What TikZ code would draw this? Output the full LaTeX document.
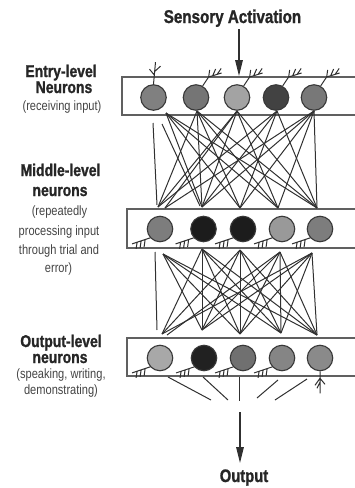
\documentclass[tikz,border=0pt]{standalone}
\usepackage{fontspec}
\setmainfont{Liberation Sans}[FakeStretch=0.82,BoldFeatures={FakeBold=1.2}]
\usetikzlibrary{arrows.meta}
\definecolor{ink}{HTML}{262626}
\definecolor{soft}{HTML}{444444}
\definecolor{frame}{HTML}{606060}
\definecolor{wire}{HTML}{303030}
\definecolor{rim}{HTML}{383838}
\begin{document}
\begin{tikzpicture}[x=1pt,y=-1pt,
  layer/.style={draw=frame,line width=1.5pt,inner sep=0pt,minimum height=38pt,minimum width=240pt,anchor=north west},
  neuron/.style={circle,draw=rim,line width=1.1pt,minimum size=25.5pt,inner sep=0pt},
  wirestyle/.style={draw=wire,line width=1pt},
  head/.style={font=\fontsize{17}{19}\selectfont\bfseries,text=ink,inner sep=0pt,anchor=base},
  note/.style={font=\fontsize{13.5}{15}\selectfont,text=soft,inner sep=0pt,anchor=base},
  title/.style={font=\fontsize{18.5}{20}\selectfont\bfseries,text=ink,inner sep=0pt,anchor=base},
  flow/.style={draw=wire,line width=1.3pt,-{Triangle[length=16pt,width=7.5pt]}},
  % branching input dendrite (upper right of an entry neuron)
  tuft/.pic={\draw[wirestyle] (0,0)--(6,-9) (6,-9)--(19,-13) (6,-9)--(7,-16)
               (10,-10.2)--(13,-17) (14.5,-11.6)--(18.5,-17.5);},
  % upright dendrite of the first entry neuron
  spike/.pic={\draw[wirestyle] (0,0)--(2,-22) (1,-9)--(-4,-15) (1.5,-13)--(7,-18);},
  % comb-like dendrite (lower left of middle and output neurons)
  comb/.pic={\draw[wirestyle] (0,0)--(-18,6) (-5,1.7)--(-6,9) (-9,3)--(-10,10)
               (-13,4.3)--(-14,11);},
  % downward dendrite of the last output neuron
  root/.pic={\draw[wirestyle] (0,0)--(0,22) (0,7)--(-5,14) (0,7)--(5,13) (0,11)--(-3,17);}
]
\useasboundingbox (0,0) rectangle (355,488);

% ---------- labels ----------
\node[title] (sens) at (232.5,23) {Sensory Activation};
\node[head] (e1) at (61,77) {Entry-level};
\node[head] (e2) at (64,93) {Neurons};
\node[note] (e3) at (62,110) {(receiving input)};

\node[head] (m1) at (60.5,176) {Middle-level};
\node[head] (m2) at (60,196) {neurons};
\node[note] (m3) at (59.5,215) {(repeatedly};
\node[note] (m4) at (59,235) {processing input};
\node[note] (m5) at (59,254) {through trial and};
\node[note] (m6) at (58.5,272) {error)};

\node[head] (o1) at (61,347) {Output-level};
\node[head] (o2) at (60,363) {neurons};
\node[note] (o3) at (61,378) {(speaking, writing,};
\node[note] (o4) at (61,394) {demonstrating)};

\node[title,font=\fontsize{18}{20}\selectfont\bfseries] (out) at (244,482) {Output};

% ---------- layers ----------
\node[layer] (B1) at (121,76) {};
\node[layer,minimum height=39pt] (B2) at (126,208) {};
\node[layer] (B3) at (126,337) {};

% ---------- connection end points ----------
\coordinate (s1) at (166,113);
\coordinate (s2) at (197,111);
\coordinate (s3) at (237,111);
\coordinate (s4) at (277,111);
\coordinate (s5) at (314,111);
\coordinate (t1) at (158,207);
\coordinate (t1b) at (165,208);
\coordinate (t2) at (202,207);
\coordinate (t3) at (240,208);
\coordinate (t4) at (278,208);
\coordinate (t5) at (317,208);
\coordinate (x1) at (153,123);
\coordinate (x2) at (157,205);
\coordinate (x3) at (162,124);
\coordinate (x4) at (200,206);

\coordinate (u1) at (163,254);
\coordinate (u2) at (202,249);
\coordinate (u3) at (240,250);
\coordinate (u4) at (280,252);
\coordinate (u5) at (312,253);
\coordinate (v1) at (162,334);
\coordinate (v1b) at (167,335);
\coordinate (v2) at (202,330);
\coordinate (v3) at (240,334);
\coordinate (v4) at (281,333);
\coordinate (v5) at (317,335);
\coordinate (y1) at (155,252);
\coordinate (y2) at (157,330);

% ---------- entry -> middle ----------
\foreach \a/\b in {s1/t2,s1/t3,s1/t4,s1/t5,
                   s2/t1,s2/t2,s2/t3,s2/t4,s2/t5,
                   s3/t1,s3/t1b,s3/t2,s3/t4,s3/t5,
                   s4/t1,s4/t2,s4/t3,s4/t5,
                   s5/t1b,s5/t2,s5/t3,s5/t4,s5/t5,
                   x1/x2,x3/x4}
  \draw[wirestyle] (\a) -- (\b);

% ---------- middle -> output ----------
\foreach \a/\b in {u1/v2,u1/v3,u1/v4,u1/v5,
                   u2/v1,u2/v2,u2/v3,u2/v4,u2/v5,
                   u3/v1,u3/v2,u3/v3,u3/v4,u3/v5,
                   u4/v1b,u4/v2,u4/v3,u4/v4,u4/v5,
                   u5/v1,u5/v2,u5/v3,u5/v4,u5/v5,
                   y1/y2}
  \draw[wirestyle] (\a) -- (\b);

% ---------- neurons ----------
\node[neuron,fill=black!50] (a1) at (153.5,97.5) {};
\node[neuron,fill=black!54] (a2) at (196,97.5) {};
\node[neuron,fill=black!36] (a3) at (237,97.5) {};
\node[neuron,fill=black!74] (a4) at (276,97.5) {};
\node[neuron,fill=black!53] (a5) at (314,97.5) {};

\node[neuron,fill=black!51] (b1) at (160,229) {};
\node[neuron,fill=black!89] (b2) at (203.5,229) {};
\node[neuron,fill=black!89] (b3) at (243,229) {};
\node[neuron,fill=black!40] (b4) at (282,229) {};
\node[neuron,fill=black!51] (b5) at (320,229) {};

\node[neuron,fill=black!34] (c1) at (160,358) {};
\node[neuron,fill=black!87] (c2) at (204,358) {};
\node[neuron,fill=black!56] (c3) at (243,358) {};
\node[neuron,fill=black!48] (c4) at (282,358) {};
\node[neuron,fill=black!46] (c5) at (320,358) {};

% ---------- dendrites ----------
\pic at (a1.north) {spike};
\foreach \n in {a2,a3,a4,a5} \pic at (\n.60) {tuft};
\foreach \n in {b1,b2,b3,b4,b5} \pic at (\n.222) {comb};
\foreach \n in {c1,c2,c3,c4} \pic at (\n.222) {comb};
\pic at (c5.south) {root};

% ---------- converging output strokes ----------
\coordinate (f1) at (168,377);  \coordinate (g1) at (211,400);
\coordinate (f2) at (203,377);  \coordinate (g2) at (228,400);
\coordinate (f3) at (239,377);  \coordinate (g3) at (239,401);
\coordinate (f4) at (278,380);  \coordinate (g4) at (257,398);
\coordinate (f5) at (307,379);  \coordinate (g5) at (275,400);
\foreach \i in {1,...,5} \draw[wirestyle] (f\i) -- (g\i);

% ---------- flow arrows ----------
\coordinate (sa) at (239,29);
\draw[flow] (sa) -- (sa |- B1.north);
\coordinate (oa) at (240,412);
\coordinate (ob) at (240,463);
\draw[flow] (oa) -- (ob);
\end{tikzpicture}
\end{document}
